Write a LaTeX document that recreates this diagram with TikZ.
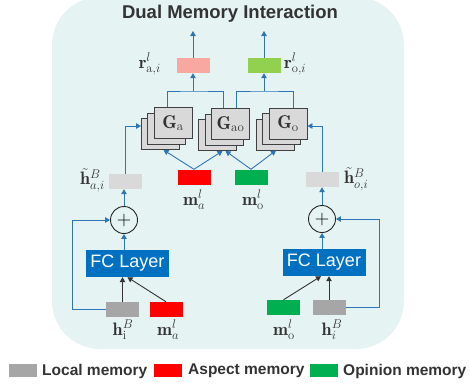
\RequirePackage{fix-cm}
\documentclass[tikz,border=0pt]{standalone}
\usepackage{fontspec}
\setsansfont{Liberation Sans}
\usetikzlibrary{arrows.meta}
\definecolor{bgc}{HTML}{E5F3F2}
\definecolor{arrc}{HTML}{2E75B6}
\definecolor{fcc}{HTML}{0070C0}
\definecolor{redc}{HTML}{FF0000}
\definecolor{grnc}{HTML}{00B050}
\definecolor{pinkc}{HTML}{F8A8A0}
\definecolor{lgrnc}{HTML}{92D050}
\definecolor{dgray}{HTML}{A6A6A6}
\definecolor{lgray}{HTML}{D9D9D9}
\definecolor{txtc}{HTML}{333333}
\definecolor{gbord}{HTML}{404040}
\begin{document}
\begin{tikzpicture}[x=1pt,y=-1pt,
  arr/.style={draw=arrc,line width=0.9pt,-{Triangle[width=5.5pt,length=5pt]}},
  bln/.style={draw=arrc,line width=0.9pt},
  karr/.style={draw=black!80,line width=0.9pt,-{Triangle[width=5.5pt,length=5pt]}},
  memb/.style={minimum width=33pt,minimum height=15pt,inner sep=0pt},
  gbox/.style={draw=gbord,fill=lgray,line width=0.9pt,minimum width=38pt,minimum height=31pt,inner sep=0pt,text=txtc,font=\fontsize{18.5}{21}\selectfont},
  lab/.style={text=txtc,font=\fontsize{18}{21}\selectfont,inner sep=0pt},
  fcb/.style={fill=fcc,text=white,font=\sffamily\fontsize{18}{20}\selectfont,minimum width=83pt,minimum height=27pt,inner sep=0pt},
  plusn/.style={circle,draw=black!85,line width=0.9pt,minimum size=27pt,inner sep=0pt,fill=bgc},
  legb/.style={minimum width=28pt,minimum height=12.5pt,inner sep=0pt},
  legt/.style={text=txtc,font=\sffamily\bfseries\fontsize{15.5}{18}\selectfont,anchor=west,inner sep=0pt}
]
\useasboundingbox (0,0) rectangle (470,389);
\fill[bgc,rounded corners=48pt] (52,-3) rectangle (404,349);

\node[text=txtc,font=\sffamily\bfseries\fontsize{18.5}{21}\selectfont] (title) at (230,14) {Dual Memory Interaction};

% outputs
\node[memb,fill=pinkc] (ra) at (193,65.5) {};
\node[memb,fill=lgrnc] (ro) at (264,65.5) {};
\coordinate (ta) at (193,31);
\coordinate (to) at (264,31);
\draw[arr] (ra.north) -- (ta);
\draw[arr] (ro.north) -- (to);
\node[lab,anchor=east] (lra) at (161,64) {$\mathbf{r}^{l}_{\mathrm{a},i}$};
\node[lab,anchor=west] (lro) at (284,64) {$\mathbf{r}^{l}_{\mathrm{o},i}$};

% G stacks
\node[gbox] (ga3) at (160.5,134) {};
\node[gbox] (ga2) at (166.75,128.5) {};
\node[gbox] (ga) at (173,123) {$\mathbf{G}_{\mathrm{a}}$};
\node[gbox] (gao3) at (217.5,135) {};
\node[gbox] (gao2) at (224,129.5) {};
\node[gbox] (gao) at (230.5,124) {$\mathbf{G}_{\mathrm{ao}}$};
\node[gbox] (go3) at (275,134.5) {};
\node[gbox] (go2) at (281.5,129) {};
\node[gbox] (go) at (288,123.5) {$\mathbf{G}_{\mathrm{o}}$};

\coordinate (ja) at (193,91);
\coordinate (jo) at (264,91);
\draw[bln] ([xshift=-6pt]ga.north) |- (ja) -| ([xshift=-7.5pt]gao.north);
\draw[bln] ([xshift=5.5pt]gao.north) |- (jo) -| ([xshift=5pt]go.north);
\draw[arr] (ja) -- (ra.south);
\draw[arr] (jo) -- (ro.south);

% middle memories
\node[memb,fill=redc] (mam) at (194,177) {};
\node[memb,fill=grnc] (mom) at (251,177) {};
\draw[arr] (mam.north) -- ([xshift=3pt]ga3.south);
\draw[arr] (mam.north) -- ([xshift=5pt]gao3.south);
\draw[arr] (mom.north) -- ([xshift=8pt]gao3.south);
\draw[arr] (mom.north) -- ([xshift=1pt]go3.south);
\node[lab] (lmam) at (194,200) {$\mathbf{m}^{l}_{a}$};
\node[lab] (lmom) at (253,200) {$\mathbf{m}^{l}_{\mathrm{o}}$};

% h tilde
\node[memb,fill=lgray] (hta) at (125,181.5) {};
\node[memb,fill=lgray] (hto) at (322,179.5) {};
\draw[arr] (hta.north) |- ([yshift=8pt]ga3.west);
\draw[arr] (hto.north) |- ([yshift=-2.5pt]go.east);
\node[lab,anchor=east] (lhta) at (105,180) {$\tilde{\mathbf{h}}^{B}_{a,i}$};
\node[lab,anchor=west] (lhto) at (344,179) {$\tilde{\mathbf{h}}^{B}_{o,i}$};

% plus
\node[plusn] (pla) at (124,220) {\fontsize{20}{20}\selectfont$+$};
\node[plusn] (plo) at (322,219) {\fontsize{20}{20}\selectfont$+$};
\draw[arr] (pla.north) -- (pla.north |- hta.south);
\draw[arr] (plo.north) -- (plo.north |- hto.south);

% FC
\node[fcb] (fca) at (127.5,263.5) {FC Layer};
\node[fcb] (fco) at (324,262.5) {FC Layer};
\draw[arr] (pla.south |- fca.north) -- (pla.south);
\draw[arr] (plo.south |- fco.north) -- (plo.south);

% bottom
\node[memb,fill=dgray] (hia) at (122.5,309.5) {};
\node[memb,fill=redc] (mab) at (166,309.5) {};
\node[memb,fill=grnc] (mob) at (283.5,307.5) {};
\node[memb,fill=dgray] (hio) at (329,307.5) {};
\draw[karr] (hia.north) -- (hia.north |- fca.south);
\draw[karr] (mab.north) -- (fca.south);
\draw[karr] (hio.north) -- (hio.north |- fco.south);
\draw[karr] (mob.north) -- ([xshift=-3pt]fco.south);
\draw[arr] (hia.west) -- ++(-33,0) |- (pla.west);
\draw[arr] (hio.east) -- ++(33.5,0) |- (plo.east);
\node[lab] (lhia) at (123,330) {$\mathbf{h}^{B}_{\mathrm{i}}$};
\node[lab] (lmab) at (168,330) {$\mathbf{m}^{l}_{a}$};
\node[lab] (lmob) at (284,330) {$\mathbf{m}^{l}_{\mathrm{o}}$};
\node[lab] (lhio) at (332,330) {$\mathbf{h}^{B}_{i}$};

% legend
\node[legb,fill=dgray] (lg1) at (23,370.5) {};
\node[legt] (lt1) at (42,371) {Local memory};
\node[legb,fill=redc] (lg2) at (168,370.5) {};
\node[legt] (lt2) at (188,371) {Aspect memory};
\node[legb,fill=grnc] (lg3) at (324,370.5) {};
\node[legt] (lt3) at (343,371) {Opinion memory};
\end{tikzpicture}
\end{document}
